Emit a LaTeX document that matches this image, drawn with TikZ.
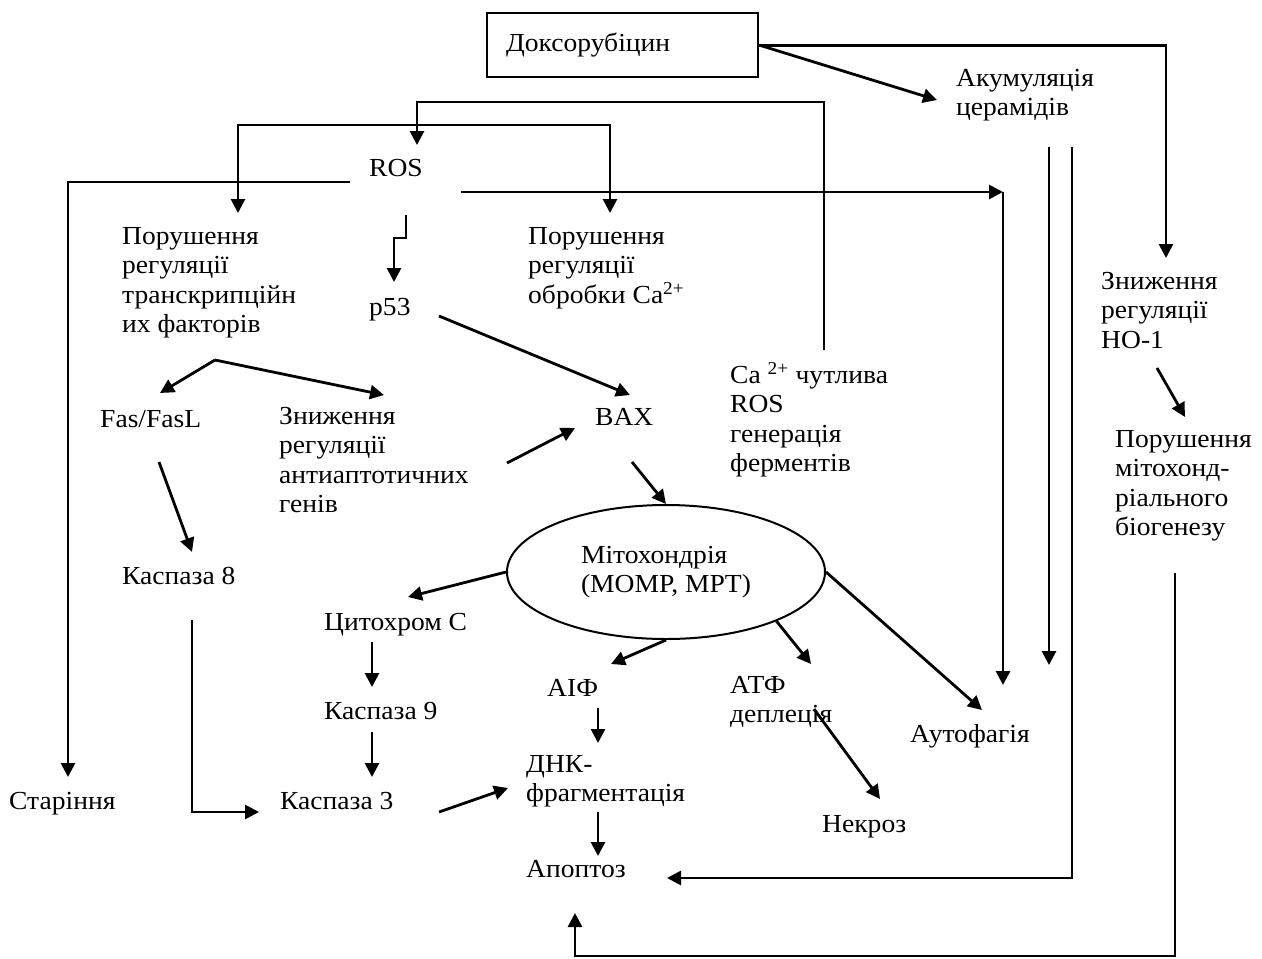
\documentclass[tikz,border=0pt]{standalone}
\usepackage{fontspec}
\setmainfont{Liberation Serif}[FakeStretch=1.06]
\usetikzlibrary{arrows.meta,shapes.geometric}
\begin{document}
\begin{tikzpicture}[x=1pt,y=-1pt,
  txt/.style={anchor=north west, inner sep=0pt, align=left,
    font=\fontsize{26}{29.5}\selectfont, execute at begin node={\rule{0pt}{20.6pt}}},
  ln/.style={line width=2.8pt},
  tip/.tip={Triangle[length=14pt,width=14pt]},
  arr/.style={ln, -tip},
  arrboth/.style={ln, tip-tip},
]
\fill[white] (0,0) rectangle (1262,959);
\useasboundingbox (0,0) rectangle (1262,959);

% nodes
\node (dox) [draw, line width=2.2pt, anchor=north west, minimum width=271pt, minimum height=64pt,
  inner xsep=19pt, text width=233pt, align=left, font=\fontsize{26}{29.5}\selectfont] at (486,12) {Доксорубіцин};
\node[txt] (acc) at (956,69) {Акумуляція\\церамідів};
\node[txt] (ros) at (369,156) {ROS};
\node[txt] (tr) at (122,227) {Порушення\\регуляції\\транскрипційн\\их факторів};
\node[txt] (ca) at (528,227) {Порушення\\регуляції\\обробки Ca\textsuperscript{2+}};
\node[txt] (p53) at (369,295) {p53};
\node[txt] (ho) at (1101,272) {Зниження\\регуляції\\HO-1};
\node[txt] (fas) at (100,407) {Fas/FasL};
\node[txt] (anti) at (279,407) {Зниження\\регуляції\\антиаптотичних\\генів};
\node[txt] (bax) at (595,405) {BAX};
\node[txt] (casens) at (730,362) {Ca \textsuperscript{2+} чутлива\\ROS\\генерація\\ферментів};
\node[txt] (bio) at (1115,430) {Порушення\\мітохонд-\\ріального\\біогенезу};
\node (mito) [ellipse, draw, line width=2pt, minimum width=318pt, minimum height=134pt, inner sep=0pt,
  align=left, font=\fontsize{26}{29.5}\selectfont] at (666,572) {Мітохондрія\\(MOMP, MPT)};
\node[txt] (c8) at (122,564) {Каспаза 8};
\node[txt] (cyt) at (324,610) {Цитохром С};
\node[txt] (c9) at (324,699) {Каспаза 9};
\node[txt] (c3) at (280,789) {Каспаза 3};
\node[txt] (aif) at (547,676) {АІФ};
\node[txt] (atf) at (730,676) {АТФ\\деплеція};
\node[txt] (auto) at (910,722) {Аутофагія};
\node[txt] (dna) at (526,755) {ДНК-\\фрагментація};
\node[txt] (nec) at (822,812) {Некроз};
\node[txt] (apo) at (526,857) {Апоптоз};
\node[txt] (star) at (9,789) {Старіння};

% connector end points
\coordinate (accIn) at (937,100);
\coordinate (hoIn) at (1166,258);
\coordinate (casensTop) at (824,350);
\coordinate (loopTop) at (824,102);
\coordinate (rosIn) at (417,145);
\coordinate (trIn) at (238,213);
\coordinate (barL) at (238,125);
\coordinate (caIn) at (610,213);
\coordinate (rosL) at (350,182);
\coordinate (starIn) at (68,777);
\coordinate (rosR) at (461,192);
\coordinate (autoCorner) at (1003,192);
\coordinate (autoIn1) at (1003,685);
\coordinate (accOut1) at (1049,147);
\coordinate (autoIn2) at (1049,665);
\coordinate (accOut2) at (1072,147);
\coordinate (apoIn1) at (667,878);
\coordinate (bioOut) at (1175,573);
\coordinate (bioBottom) at (1175,956);
\coordinate (apoIn2) at (575,913);
\coordinate (hoOut) at (1157,368);
\coordinate (bioIn) at (1185,417);
\coordinate (rosDown) at (406,215);
\coordinate (zig) at (406,238);
\coordinate (p53In) at (394,282);
\coordinate (p53Out) at (439,316);
\coordinate (baxIn1) at (630,395);
\coordinate (trOut) at (215,360);
\coordinate (fasIn) at (160,393);
\coordinate (antiIn) at (384,395);
\coordinate (antiOut) at (507,463);
\coordinate (baxIn2) at (575,428);
\coordinate (baxOut) at (632,462);
\coordinate (fasOut) at (159,462);
\coordinate (c8In) at (192,552);
\coordinate (cytIn) at (408,597);
\coordinate (cytOut) at (372,642);
\coordinate (c9In) at (372,687);
\coordinate (c9Out) at (372,732);
\coordinate (c3In1) at (372,777);
\coordinate (c8Out) at (192,620);
\coordinate (c3In2) at (259,812);
\coordinate (c3Out) at (439,812);
\coordinate (dnaIn1) at (508,788);
\coordinate (aifIn) at (611,664);
\coordinate (aifOut) at (598,708);
\coordinate (dnaIn2) at (598,743);
\coordinate (dnaOut) at (598,812);
\coordinate (apoIn3) at (598,856);
\coordinate (atfIn) at (811,664);
\coordinate (atfOut) at (814,709);
\coordinate (necIn) at (880,799);
\coordinate (autoIn3) at (982,710);

% connectors
\draw[arr] (dox.east) -- (accIn);
\draw[arr] (dox.east) -| (hoIn);
\draw[arr] (casensTop) -- (loopTop) -| (rosIn);
\draw[arrboth] (trIn) -- (barL) -| (caIn);
\draw[arr] (rosL) -| (starIn);
\draw[arr] (rosR) -- (autoCorner);
\draw[arr] (autoCorner) -- (autoIn1);
\draw[arr] (accOut1) -- (autoIn2);
\draw[arr] (accOut2) |- (apoIn1);
\draw[arr] (bioOut) -- (bioBottom) -| (apoIn2);
\draw[arr] (hoOut) -- (bioIn);
\draw[arr] (rosDown) -- (zig) -| (p53In);
\draw[arr] (p53Out) -- (baxIn1);
\draw[arr] (trOut) -- (fasIn);
\draw[arr] (trOut) -- (antiIn);
\draw[arr] (antiOut) -- (baxIn2);
\draw[arr] (baxOut) -- (mito.north);
\draw[arr] (fasOut) -- (c8In);
\draw[arr] (mito.west) -- (cytIn);
\draw[arr] (cytOut) -- (c9In);
\draw[arr] (c9Out) -- (c3In1);
\draw[arr] (c8Out) |- (c3In2);
\draw[arr] (c3Out) -- (dnaIn1);
\draw[arr] (mito.south) -- (aifIn);
\draw[arr] (aifOut) -- (dnaIn2);
\draw[arr] (dnaOut) -- (apoIn3);
\draw[arr] (mito.-24) -- (atfIn);
\draw[arr] (atfOut) -- (necIn);
\draw[arr] (mito.east) -- (autoIn3);
\end{tikzpicture}
\end{document}
